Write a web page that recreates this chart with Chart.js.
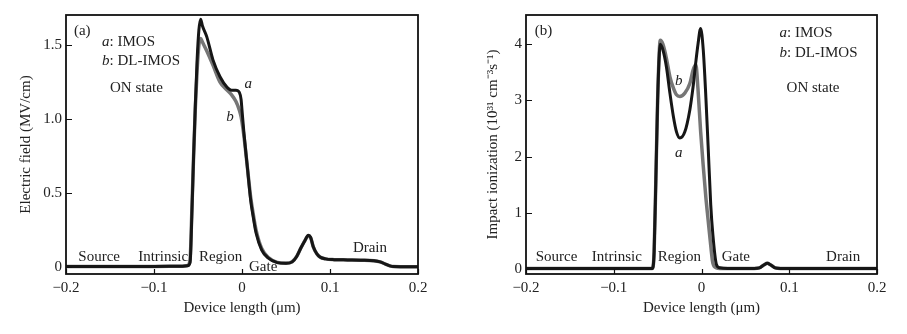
<!DOCTYPE html>
<html>
<head>
<meta charset="utf-8">
<script src="https://cdn.jsdelivr.net/npm/chart.js@4.4.0/dist/chart.umd.min.js"></script>
<style>
    body { margin: 0; background: #fff; }
    #wrap { position: relative; width: 907px; height: 334px; }
    #leftBox { position: absolute; left: 0; top: 0; }
    #rightBox { position: absolute; left: 450px; top: 0; }
</style>
</head>
<body>
<div id="wrap">
    <div id="leftBox"><canvas id="fieldChart" width="450" height="334"></canvas></div>
    <div id="rightBox"><canvas id="ionChart" width="457" height="334"></canvas></div>
</div>
<script>
// Tick values and labels
const xTickValues = [-0.2, -0.1, 0, 0.1, 0.2];
const xTickLabels = ["\u22120.2", "\u22120.1", "0", "0.1", "0.2"];
const fieldTickValues = [0, 0.5, 1.0, 1.5];
const fieldTickLabels = ["0", "0.5", "1.0", "1.5"];
const ionTickValues = [0, 1, 2, 3, 4];
const ionTickLabels = ["0", "1", "2", "3", "4"];

// (a) Electric field (MV/cm) vs device length (um)
const fieldX = [-0.2, -0.15, -0.1, -0.07, -0.062, -0.059, -0.057, -0.055, -0.053, -0.051, -0.049, -0.047, -0.045,
    -0.040, -0.033, -0.025, -0.017, -0.012, -0.007, -0.003, -0.001, 0, 0.0023, 0.006, 0.0099, 0.013, 0.016,
    0.0224, 0.03, 0.04, 0.05, 0.057, 0.062, 0.067, 0.0716, 0.0754, 0.078, 0.081, 0.085, 0.0886, 0.095, 0.105,
    0.12, 0.135, 0.15, 0.157, 0.163, 0.168, 0.172, 0.18, 0.19, 0.2];
const fieldIMOS = [0.003, 0.003, 0.004, 0.005, 0.008, 0.03, 0.35, 0.75, 1.1, 1.4, 1.6, 1.675, 1.63,
    1.555, 1.40, 1.286, 1.215, 1.195, 1.195, 1.18, 1.13, 1.06, 0.9, 0.68, 0.45, 0.33, 0.23,
    0.115, 0.06, 0.03, 0.025, 0.035, 0.07, 0.13, 0.18, 0.215, 0.2, 0.137, 0.09, 0.068, 0.055, 0.05,
    0.048, 0.046, 0.043, 0.035, 0.02, 0.008, 0.003, 0.002, 0.002, 0.002];
const fieldDLIMOS = [0.003, 0.003, 0.004, 0.005, 0.01, 0.05, 0.38, 0.75, 1.08, 1.33, 1.5, 1.545, 1.52,
    1.46, 1.365, 1.25, 1.196, 1.165, 1.12, 1.06, 1.015, 0.98, 0.88, 0.68, 0.47, 0.35, 0.25,
    0.125, 0.065, 0.032, 0.026, 0.036, 0.07, 0.13, 0.18, 0.212, 0.198, 0.137, 0.09, 0.068, 0.055, 0.05,
    0.048, 0.046, 0.043, 0.035, 0.02, 0.008, 0.003, 0.002, 0.002, 0.002];

// (b) Impact ionization (10^31 cm^-3 s^-1) vs device length (um)
const ionX = [-0.2, -0.1, -0.056, -0.054, -0.052, -0.050, -0.048, -0.047, -0.044, -0.040, -0.036, -0.032,
    -0.0285, -0.0247, -0.019, -0.0133, -0.0096, -0.0065, -0.004, -0.001, 0.002, 0.005, 0.0075, 0.0105,
    0.013, 0.017, 0.021, 0.03, 0.06, 0.066, 0.071, 0.075, 0.079, 0.084, 0.09, 0.2];
const ionIMOS = [0.01, 0.01, 0.01, 0.3, 1.6, 3.0, 3.85, 4.0, 3.9, 3.6, 3.13, 2.71,
    2.44, 2.33, 2.44, 2.83, 3.24, 3.68, 4.0, 4.28, 3.9, 3.05, 2.2, 1.15,
    0.6, 0.08, 0.02, 0.01, 0.01, 0.02, 0.07, 0.1, 0.07, 0.02, 0.01, 0.01];
const ionDLIMOS = [0.01, 0.01, 0.01, 0.3, 1.6, 3.0, 3.9, 4.07, 4.0, 3.75, 3.42, 3.22,
    3.1, 3.07, 3.13, 3.3, 3.54, 3.64, 3.2, 2.45, 1.83, 1.27, 0.88, 0.42,
    0.1, 0.02, 0.01, 0.01, 0.01, 0.02, 0.07, 0.1, 0.07, 0.02, 0.01, 0.01];

const FONT = "'Liberation Serif', 'Times New Roman', serif";
const TEXT_COLOR = "#222";

function toPoints(xs, ys) {
    return xs.map((x, i) => ({ x: x, y: ys[i] }));
}

// Frame, inward ticks and text labels placed in data coordinates
const decoPlugin = {
    id: "deco",
    afterDatasetsDraw(chart, args, opts) {
        const ctx = chart.ctx;
        const area = chart.chartArea;
        const xs = chart.scales.x;
        const ys = chart.scales.y;
        ctx.save();
        ctx.strokeStyle = "#111";
        ctx.lineWidth = 1.2;
        ctx.beginPath();
        xs.ticks.forEach(t => {
            const px = Math.round(xs.getPixelForValue(t.value)) + 0.5;
            ctx.moveTo(px, area.bottom);
            ctx.lineTo(px, area.bottom - 5);
        });
        ys.ticks.forEach(t => {
            const py = Math.round(ys.getPixelForValue(t.value)) + 0.5;
            ctx.moveTo(area.left, py);
            ctx.lineTo(area.left + 6, py);
        });
        ctx.stroke();
        ctx.lineWidth = 1.8;
        ctx.strokeRect(area.left, area.top, area.right - area.left, area.bottom - area.top);

        ctx.fillStyle = TEXT_COLOR;
        ctx.textBaseline = "middle";
        opts.labels.forEach(l => {
            let px = xs.getPixelForValue(l.x);
            const py = ys.getPixelForValue(l.y);
            ctx.textAlign = "left";
            if (l.center) {
                let w = 0;
                l.parts.forEach(p => {
                    ctx.font = (p[1] ? "italic " : "") + "15px " + FONT;
                    w += ctx.measureText(p[0]).width;
                });
                px -= w / 2;
            }
            l.parts.forEach(p => {
                ctx.font = (p[1] ? "italic " : "") + "15px " + FONT;
                ctx.fillText(p[0], px, py);
                px += ctx.measureText(p[0]).width;
            });
        });
        ctx.restore();
    }
};

function makeChart(canvasId, opts) {
    const ctx = document.getElementById(canvasId).getContext("2d");
    return new Chart(ctx, {
        type: "line",
        data: {
            datasets: [
                {
                    label: "IMOS",
                    data: toPoints(opts.x, opts.a),
                    borderColor: "#161616",
                    borderWidth: 3,
                    pointRadius: 0,
                    cubicInterpolationMode: "monotone"
                },
                {
                    label: "DL-IMOS",
                    data: toPoints(opts.x, opts.b),
                    borderColor: "#767676",
                    borderWidth: 3.5,
                    pointRadius: 0,
                    cubicInterpolationMode: "monotone"
                }
            ]
        },
        options: {
            responsive: false,
            animation: false,
            devicePixelRatio: 1,
            layout: { padding: { top: 15, right: opts.padRight, bottom: 0, left: 0 } },
            plugins: {
                legend: { display: false },
                tooltip: { enabled: false },
                deco: { labels: opts.labels }
            },
            scales: {
                x: {
                    type: "linear",
                    min: -0.2,
                    max: 0.2,
                    grid: { display: false, drawTicks: false },
                    border: { display: false },
                    afterBuildTicks: s => { s.ticks = xTickValues.map(v => ({ value: v })); },
                    afterFit: s => { s.height = 60; },
                    ticks: {
                        autoSkip: false,
                        maxRotation: 0,
                        padding: 5,
                        color: TEXT_COLOR,
                        font: { family: FONT, size: 15 },
                        callback: (v, i) => xTickLabels[i]
                    },
                    title: {
                        display: true,
                        text: "Device length (\u03bcm)",
                        color: TEXT_COLOR,
                        font: { family: FONT, size: 15 },
                        padding: { top: 0, bottom: 17 }
                    }
                },
                y: {
                    type: "linear",
                    min: opts.yMin,
                    max: opts.yMax,
                    grid: { display: false, drawTicks: false },
                    border: { display: false },
                    afterBuildTicks: s => { s.ticks = opts.yTicks.map(v => ({ value: v })); },
                    afterFit: s => { s.width = opts.yWidth; },
                    ticks: {
                        autoSkip: false,
                        padding: 4,
                        color: TEXT_COLOR,
                        font: { family: FONT, size: 15 },
                        callback: (v, i) => opts.yLabels[i]
                    },
                    title: {
                        display: true,
                        text: opts.yTitle,
                        color: TEXT_COLOR,
                        font: { family: FONT, size: 15 },
                        padding: { top: opts.yTitlePad, bottom: 0 }
                    }
                }
            }
        },
        plugins: [decoPlugin]
    });
}

document.addEventListener("DOMContentLoaded", function () {
    makeChart("fieldChart", {
        x: fieldX, a: fieldIMOS, b: fieldDLIMOS,
        yMin: -0.047, yMax: 1.703,
        yTicks: fieldTickValues, yLabels: fieldTickLabels,
        yWidth: 66, padRight: 32, yTitlePad: 17,
        yTitle: "Electric field (MV/cm)",
        labels: [
            { x: -0.191, y: 1.595, parts: [["(a)", false]] },
            { x: -0.159, y: 1.52, parts: [["a", true], [": IMOS", false]] },
            { x: -0.159, y: 1.392, parts: [["b", true], [": DL-IMOS", false]] },
            { x: -0.15, y: 1.209, parts: [["ON state", false]] },
            { x: 0.007, y: 1.236, parts: [["a", true]], center: true },
            { x: -0.0136, y: 1.013, parts: [["b", true]], center: true },
            { x: -0.186, y: 0.068, parts: [["Source", false]] },
            { x: -0.118, y: 0.068, parts: [["Intrinsic", false]] },
            { x: -0.049, y: 0.068, parts: [["Region", false]] },
            { x: 0.008, y: 0.0, parts: [["Gate", false]] },
            { x: 0.126, y: 0.128, parts: [["Drain", false]] }
        ]
    });
    makeChart("ionChart", {
        x: ionX, a: ionIMOS, b: ionDLIMOS,
        yMin: -0.09, yMax: 4.52,
        yTicks: ionTickValues, yLabels: ionTickLabels,
        yWidth: 76, padRight: 30, yTitlePad: 34,
        yTitle: "Impact ionization (10\u00b3\u00b9 cm\u207b\u00b3s\u207b\u00b9)",
        labels: [
            { x: -0.19, y: 4.235, parts: [["(b)", false]] },
            { x: 0.089, y: 4.2, parts: [["a", true], [": IMOS", false]] },
            { x: 0.089, y: 3.84, parts: [["b", true], [": DL-IMOS", false]] },
            { x: 0.097, y: 3.22, parts: [["ON state", false]] },
            { x: -0.026, y: 3.345, parts: [["b", true]], center: true },
            { x: -0.026, y: 2.064, parts: [["a", true]], center: true },
            { x: -0.189, y: 0.214, parts: [["Source", false]] },
            { x: -0.125, y: 0.214, parts: [["Intrinsic", false]] },
            { x: -0.05, y: 0.214, parts: [["Region", false]] },
            { x: 0.023, y: 0.214, parts: [["Gate", false]] },
            { x: 0.142, y: 0.214, parts: [["Drain", false]] }
        ]
    });
});
</script>
</body>
</html>
